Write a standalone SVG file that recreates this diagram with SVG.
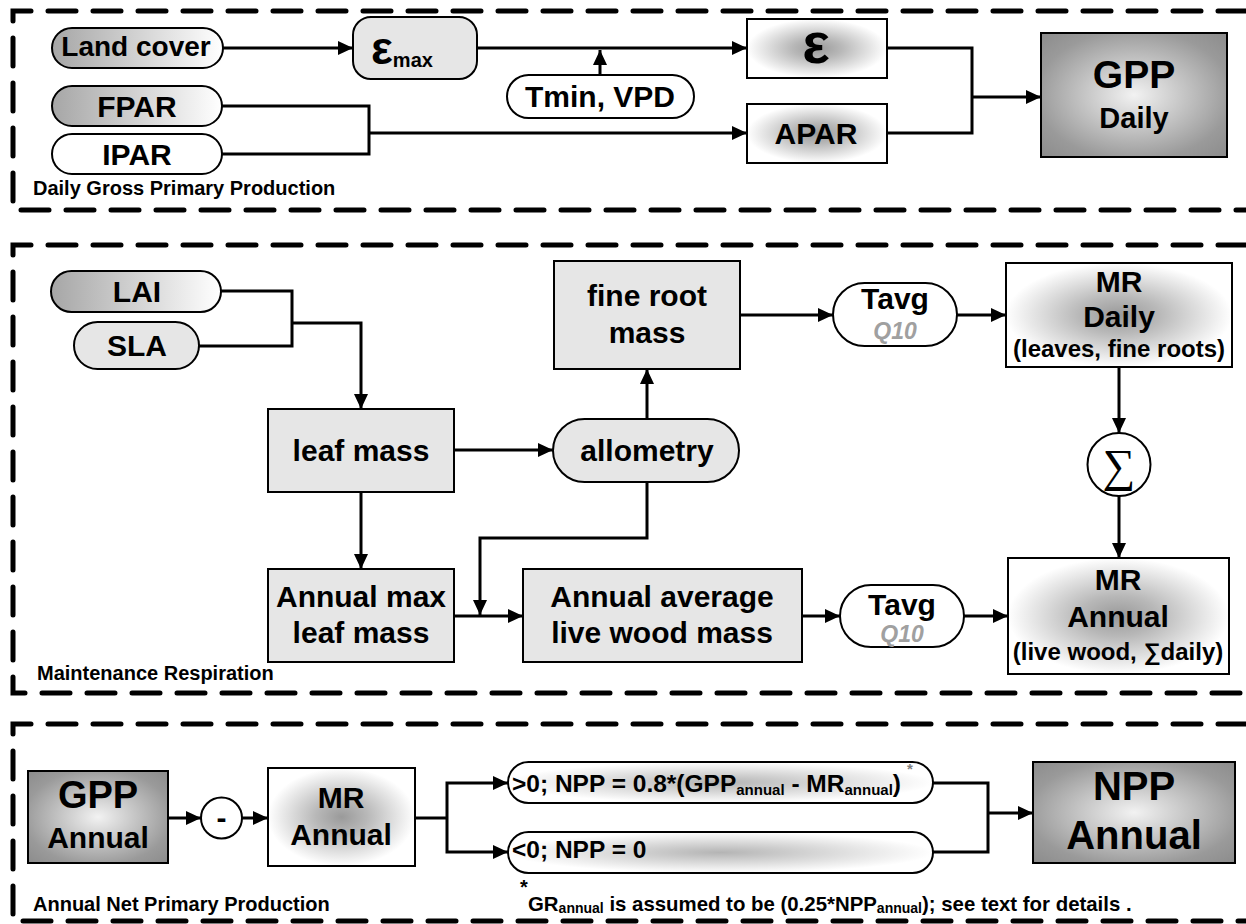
<svg xmlns="http://www.w3.org/2000/svg" width="1246" height="924" viewBox="0 0 1246 924">
<defs>
<style>
.sec{fill:none;stroke:#000;stroke-width:5;stroke-dasharray:28 17;stroke-linecap:round}
.bx{stroke:#000;stroke-width:2}
.c{fill:none;stroke:#000;stroke-width:3}
.a{marker-end:url(#ah)}
.t{font-family:"Liberation Sans",Arial,sans-serif;font-weight:bold;fill:#000;text-anchor:middle}
.s{text-anchor:start}
.q{font-style:italic;fill:#a0a0a0;font-size:23px}
.lbl{font-family:"Liberation Sans",Arial,sans-serif;font-weight:bold;font-size:20px;fill:#000}
</style>
<marker id="ah" markerUnits="userSpaceOnUse" markerWidth="16" markerHeight="16" refX="15" refY="7" orient="auto">
<path d="M0,0 L15,7 L0,14 z" fill="#000"/>
</marker>
<linearGradient id="lg" x1="0" y1="0" x2="1" y2="0">
<stop offset="0" stop-color="#a6a6a6"/><stop offset="1" stop-color="#ffffff"/>
</linearGradient>
<radialGradient id="rg" cx="0.5" cy="0.5" r="0.5">
<stop offset="0" stop-color="#9a9a9a"/><stop offset="0.35" stop-color="#b8b8b8"/><stop offset="1" stop-color="#ffffff"/>
</radialGradient>
<radialGradient id="pg" cx="0.5" cy="0.5" r="0.5">
<stop offset="0" stop-color="#b4b4b4"/><stop offset="1" stop-color="#ffffff"/>
</radialGradient>
<radialGradient id="dg" cx="0.5" cy="0.5" r="0.7">
<stop offset="0" stop-color="#f2f2f2"/><stop offset="0.75" stop-color="#9a9a9a"/><stop offset="1" stop-color="#8c8c8c"/>
</radialGradient>
</defs>
<rect width="1246" height="924" fill="#fff"/>

<g id="sections">
<path class="sec" d="M1246,11 H13 V210 H1246"/>
<path class="sec" d="M1246,245 H13 V693 H1246"/>
<path class="sec" d="M1246,724 H13 V921 H1246"/>
<text class="lbl" x="33" y="195">Daily Gross Primary Production</text>
<text class="lbl" x="37" y="680">Maintenance Respiration</text>
<text class="lbl" x="33" y="911">Annual Net Primary Production</text>
</g>

<g id="connectors">
<path class="c a" d="M223,48 H353"/>
<path class="c a" d="M477,48 H747"/>
<path class="c a" d="M600,75 V50"/>
<path class="c" d="M222,106 H369 V154 H222"/>
<path class="c a" d="M369,133 H747"/>
<path class="c" d="M887,48 H972 V133 H887"/>
<path class="c a" d="M972,97 H1041"/>

<path class="c" d="M221,291 H292 V346 H199"/>
<path class="c a" d="M292,323 H361 V409"/>
<path class="c a" d="M454,450 H553"/>
<path class="c a" d="M647,419 V369"/>
<path class="c a" d="M740,315 H833"/>
<path class="c a" d="M957,315 H1006"/>
<path class="c a" d="M1119,367 V433"/>
<path class="c a" d="M1119,496 V558"/>
<path class="c a" d="M361,492 V569"/>
<path class="c a" d="M454,616 H523"/>
<path class="c a" d="M647,482 V538 H480 V615"/>
<path class="c a" d="M802,616 H840"/>
<path class="c a" d="M964,616 H1008"/>

<path class="c a" d="M168,818 H201"/>
<path class="c a" d="M242,818 H268"/>
<path class="c" d="M415,818 H447"/>
<path class="c a" d="M447,818 V783 H508"/>
<path class="c a" d="M447,818 V852 H508"/>
<path class="c" d="M933,783 H988 V852 H933"/>
<path class="c a" d="M988,813 H1033"/>
</g>

<g id="land-cover"><rect class="bx" x="52" y="28" width="171" height="40" rx="20" fill="url(#lg)"/><text class="t" x="136" y="56" font-size="28">Land cover</text></g>
<g id="fpar"><rect class="bx" x="52" y="86" width="170" height="40" rx="20" fill="url(#lg)"/><text class="t" x="137" y="117" font-size="30">FPAR</text></g>
<g id="ipar"><rect class="bx" x="52" y="134" width="170" height="40" rx="20" fill="#fff"/><text class="t" x="137" y="165" font-size="30">IPAR</text></g>
<g id="emax"><rect class="bx" x="353" y="17" width="124" height="62" rx="18" fill="#e6e6e6"/><text class="t s" x="371" y="64" font-size="46">ε<tspan font-size="20" dy="3">max</tspan></text></g>
<g id="tmin-vpd"><rect class="bx" x="507" y="75" width="187" height="43" rx="21.5" fill="#fff"/><text class="t" x="600" y="107" font-size="30">Tmin, VPD</text></g>
<g id="epsilon"><rect class="bx" x="747" y="19" width="140" height="59" fill="url(#rg)"/><text class="t" x="816" y="63" font-size="58">ε</text></g>
<g id="apar"><rect class="bx" x="747" y="104" width="140" height="59" fill="url(#rg)"/><text class="t" x="816" y="144" font-size="30">APAR</text></g>
<g id="gpp-daily"><rect class="bx" x="1041" y="33" width="186" height="124" fill="url(#dg)"/><text class="t" x="1134" y="88" font-size="39">GPP</text><text class="t" x="1134" y="128" font-size="29">Daily</text></g>

<g id="lai"><rect class="bx" x="51" y="271" width="170" height="41" rx="20.5" fill="url(#lg)"/><text class="t" x="137" y="302" font-size="30">LAI</text></g>
<g id="sla"><rect class="bx" x="74" y="322" width="125" height="47" rx="23.5" fill="#e6e6e6"/><text class="t" x="137" y="356" font-size="30">SLA</text></g>
<g id="leaf-mass"><rect class="bx" x="268" y="409" width="186" height="83" fill="#e6e6e6"/><text class="t" x="361" y="461" font-size="30">leaf mass</text></g>
<g id="fine-root-mass"><rect class="bx" x="554" y="261" width="186" height="108" fill="#e6e6e6"/><text class="t" x="647" y="306" font-size="30">fine root</text><text class="t" x="647" y="343" font-size="30">mass</text></g>
<g id="allometry"><rect class="bx" x="553" y="419" width="186" height="63" rx="31.5" fill="#e6e6e6"/><text class="t" x="647" y="461" font-size="30">allometry</text></g>
<g id="tavg1"><rect class="bx" x="833" y="283" width="124" height="63" rx="31.5" fill="#fff"/><text class="t" x="895" y="309" font-size="30">Tavg</text><text class="t q" x="895" y="339">Q10</text></g>
<g id="mr-daily"><rect class="bx" x="1006" y="263" width="226" height="104" fill="url(#rg)"/><text class="t" x="1119" y="292" font-size="30">MR</text><text class="t" x="1119" y="327" font-size="30">Daily</text><text class="t" x="1119" y="357" font-size="24">(leaves, fine roots)</text></g>
<g id="sum"><circle class="bx" cx="1119" cy="464.5" r="31.5" fill="#fff"/><text x="1119" y="481" font-family="'Liberation Serif','DejaVu Serif',serif" font-size="46" text-anchor="middle">∑</text></g>
<g id="annual-max-leaf-mass"><rect class="bx" x="268" y="569" width="186" height="93" fill="#e6e6e6"/><text class="t" x="361" y="607" font-size="30">Annual max</text><text class="t" x="361" y="643" font-size="30">leaf mass</text></g>
<g id="annual-average-live-wood"><rect class="bx" x="523" y="569" width="279" height="93" fill="#e6e6e6"/><text class="t" x="662" y="607" font-size="30">Annual average</text><text class="t" x="662" y="643" font-size="30">live wood mass</text></g>
<g id="tavg2"><rect class="bx" x="840" y="585" width="124" height="62" rx="31" fill="#fff"/><text class="t" x="902" y="615" font-size="30">Tavg</text><text class="t q" x="902" y="642">Q10</text></g>
<g id="mr-annual"><rect class="bx" x="1008" y="558" width="221" height="116" fill="url(#rg)"/><text class="t" x="1118" y="590" font-size="30">MR</text><text class="t" x="1118" y="627" font-size="30">Annual</text><text class="t" x="1118" y="660" font-size="24">(live wood, ∑daily)</text></g>

<g id="gpp-annual"><rect class="bx" x="28" y="771" width="140" height="92" fill="url(#dg)"/><text class="t" x="98" y="808" font-size="38">GPP</text><text class="t" x="98" y="848" font-size="30">Annual</text></g>
<g id="minus"><circle class="bx" cx="221.5" cy="818" r="20.5" fill="#fff"/><text class="t" x="221.5" y="828" font-size="30">-</text></g>
<g id="mr-annual-2"><rect class="bx" x="268" y="768" width="147" height="98" fill="url(#rg)"/><text class="t" x="341" y="808" font-size="30">MR</text><text class="t" x="341" y="845" font-size="30">Annual</text></g>
<g id="npp-positive"><rect class="bx" x="508" y="762" width="425" height="41" rx="20.5" fill="url(#pg)"/><text class="t s" x="512" y="792" font-size="24.5">&gt;0; NPP = 0.8*(GPP<tspan font-size="15" dy="3">annual</tspan><tspan dy="-3"> - MR</tspan><tspan font-size="15" dy="3">annual</tspan><tspan dy="-3">)</tspan></text><text class="t" x="910" y="774" font-size="15" style="fill:#808080">*</text></g>
<g id="npp-negative"><rect class="bx" x="508" y="832" width="425" height="41" rx="20.5" fill="url(#pg)"/><text class="t s" x="512" y="858" font-size="24.5">&lt;0; NPP = 0</text></g>
<g id="npp-annual"><rect class="bx" x="1033" y="762" width="202" height="101" fill="url(#dg)"/><text class="t" x="1134" y="800" font-size="40">NPP</text><text class="t" x="1134" y="849" font-size="40">Annual</text></g>
<g id="footnote"><text class="lbl" x="520" y="894" font-size="20">*</text><text class="lbl" x="528" y="911" font-size="20.4" style="font-size:20.4px">GR<tspan style="font-size:14px" dy="2">annual</tspan><tspan dy="-2"> is assumed to be (0.25*NPP</tspan><tspan style="font-size:14px" dy="2">annual</tspan><tspan dy="-2">); see text for details .</tspan></text></g>
</svg>
